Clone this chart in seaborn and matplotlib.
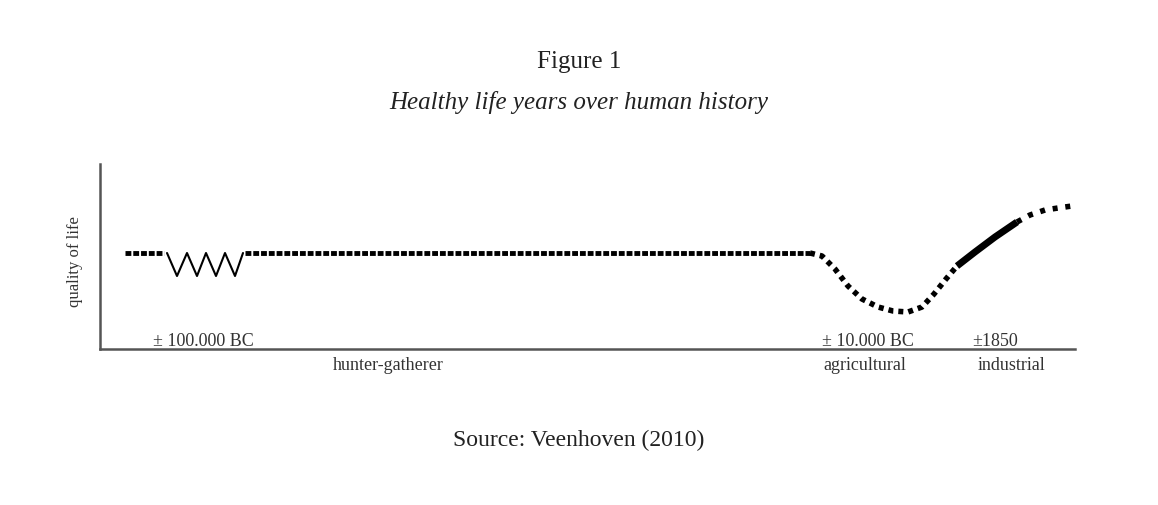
import matplotlib
matplotlib.use("Agg")
import matplotlib.pyplot as plt
import seaborn as sns
import pandas as pd

sns.set_style("white")
plt.rcParams['font.family'] = ['Liberation Serif', 'DejaVu Serif']

# segments (x: time position, y: quality of life)
lead_x = [125, 164]
lead_y = [96, 96]
zig_x = [167, 177, 187, 197, 206, 216, 225, 235, 243]
zig_y = [96, 73, 96, 73, 96, 73, 96, 73, 96]
flat_x = [245, 810]
flat_y = [96, 96]
dip_x = [810, 822, 835, 848, 862, 878, 893, 908, 922, 934, 946, 957]
dip_y = [96, 93, 80, 63, 50, 42, 38, 37, 42, 55, 70, 83]
solid_x = [957, 975, 995, 1017]
solid_y = [83, 97, 112, 127]
tail_x = [1017, 1030, 1045, 1058, 1072]
tail_y = [127, 134, 139, 141, 143]

fig = plt.figure(figsize=(11.58, 5.06), dpi=100)
ax = fig.add_axes([100/1158, 1-350/506, 975/1158, 185/506])

def seg(x, y, **kw):
    sns.lineplot(data=pd.DataFrame({"x": x, "y": y}), x="x", y="y", ax=ax,
                 color="black", sort=False, estimator=None, **kw)

seg(lead_x, lead_y, linewidth=3.5, linestyle=(0, (1.2, 0.4)))
seg(zig_x, zig_y, linewidth=1.5)
seg(flat_x, flat_y, linewidth=3.5, linestyle=(0, (1.2, 0.4)))
seg(dip_x, dip_y, linewidth=4, linestyle=(0, (0.9, 0.9)))
seg(solid_x, solid_y, linewidth=5, solid_capstyle='butt')
seg(tail_x, tail_y, linewidth=4, linestyle=(0, (0.9, 1.4)))

ax.set_xlim(100, 1075)
ax.set_ylim(0, 185)
ax.set_xticks([]); ax.set_yticks([])
ax.set_xlabel(""); ax.set_ylabel("")
for s in ["top", "right"]:
    ax.spines[s].set_visible(False)
for s in ["left", "bottom"]:
    ax.spines[s].set_color("#555555")
    ax.spines[s].set_linewidth(1.8)

period_labels = ["± 100.000 BC", "± 10.000 BC", "±1850"]
period_x = [203, 868, 995]
era_labels = ["hunter-gatherer", "agricultural", "industrial"]
era_x = [388, 865, 1012]
for t, x in zip(period_labels, period_x):
    ax.text(x, 9, t, ha="center", va="center", fontsize=13, color="#333333")
for t, x in zip(era_labels, era_x):
    ax.text(x, -16, t, ha="center", va="center", fontsize=13, color="#333333")

fig.text(75/1158, 1-262/506, "quality of life", rotation=90, ha="center", va="center",
         fontsize=12, color="#333333")
fig.text(0.5, 1-62/506, "Figure 1", ha="center", va="center", fontsize=18, color="#222222")
fig.text(0.5, 1-103/506, "Healthy life years over human history", ha="center", va="center",
         fontsize=18, style="italic", color="#222222")
fig.text(0.5, 1-440/506, "Source: Veenhoven (2010)", ha="center", va="center",
         fontsize=17, color="#222222")

fig.savefig("out.png", dpi=100, facecolor="white")
